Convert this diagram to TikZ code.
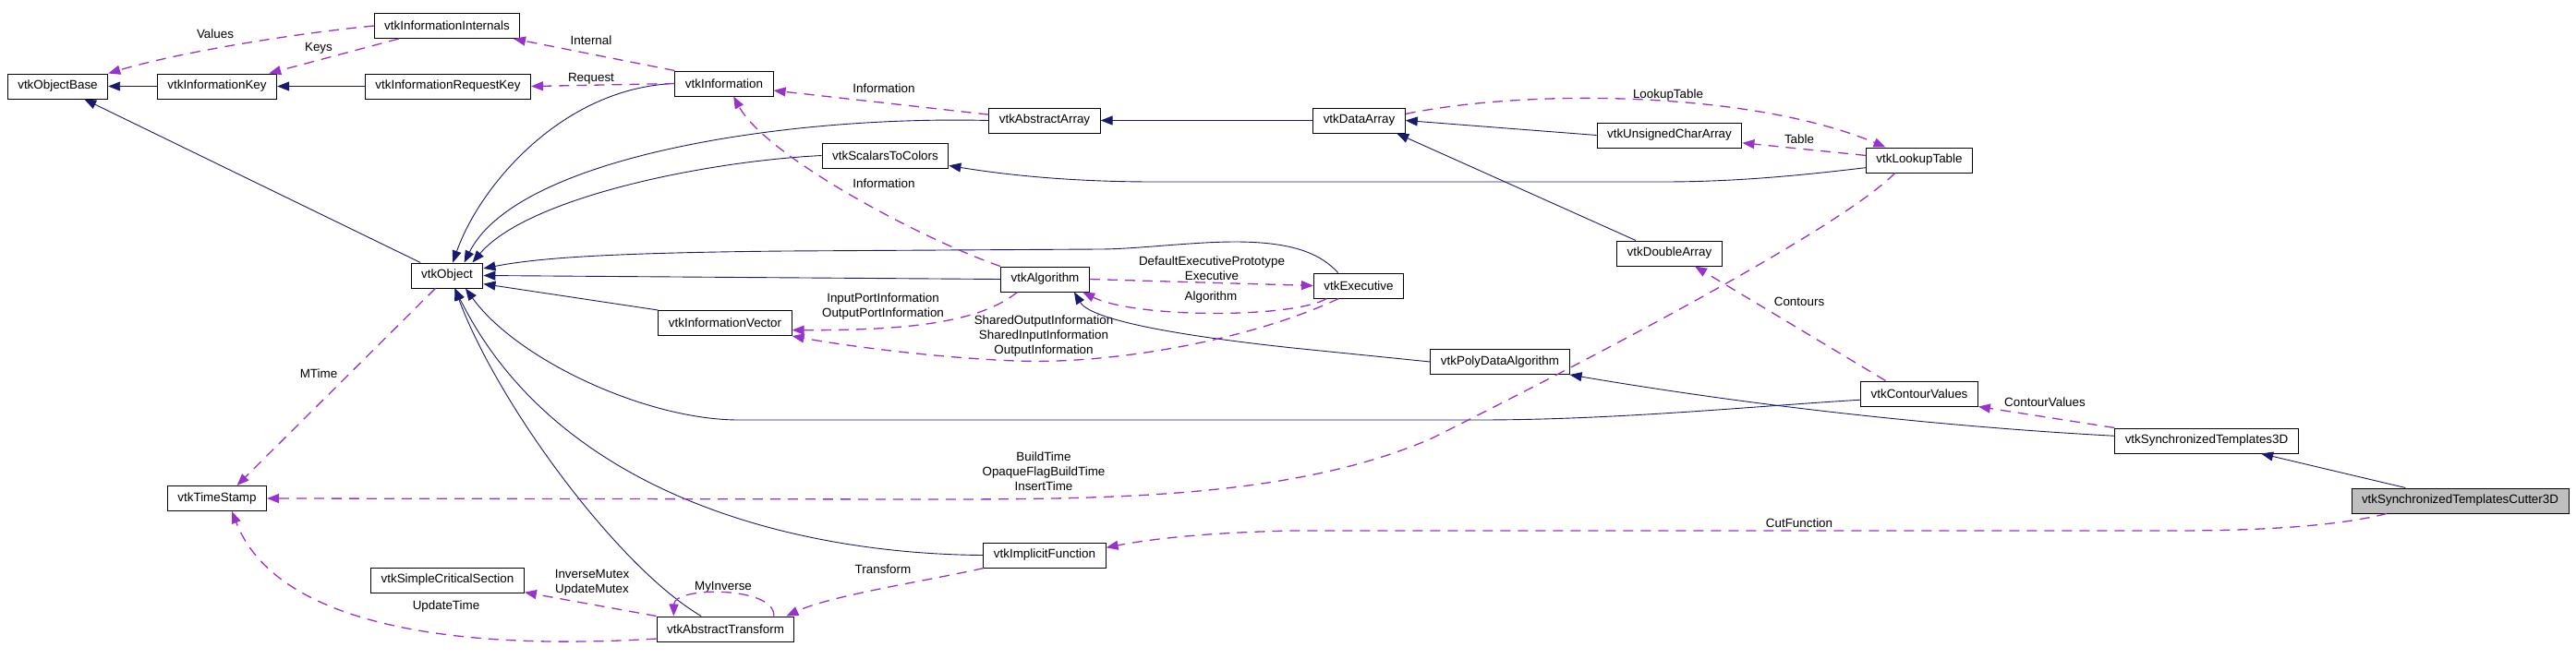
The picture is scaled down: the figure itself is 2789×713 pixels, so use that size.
\documentclass[tikz,border=0pt]{standalone}
\usepackage{fontspec}
\setmainfont{Liberation Sans}
\usetikzlibrary{arrows.meta}
\definecolor{navy}{RGB}{25,25,112}
\definecolor{orchid}{RGB}{153,50,204}
\def\fsz{\fontsize{13.4}{16}\selectfont}

\begin{document}
\begin{tikzpicture}[x=1pt, y=-1pt,
  cls/.style={draw=black, line width=1pt, inner xsep=11pt, inner ysep=0pt, minimum height=27pt, font=\fsz},
  inh/.style={navy, line width=0.9pt, -{Triangle[length=13pt,width=10pt]}},
  usg/.style={orchid, line width=1.3pt, dash pattern=on 11pt off 8pt, -{Triangle[length=13pt,width=10pt]}},
  lbl/.style={font=\fsz, align=center, inner sep=0pt}]
\useasboundingbox (0,0) rectangle (2789,713);

\node[cls] (obase) at (62.5,93.5) {vtkObjectBase};
\node[cls] (ikey) at (235,93.5) {vtkInformationKey};
\node[cls] (ireq) at (485,93.5) {vtkInformationRequestKey};
\node[cls] (iint) at (484,28) {vtkInformationInternals};
\node[cls] (info) at (784,90.5) {vtkInformation};
\node[cls] (aarr) at (1131,130.5) {vtkAbstractArray};
\node[cls] (s2c) at (958.5,168.5) {vtkScalarsToColors};
\node[cls] (darr) at (1471.5,130.5) {vtkDataArray};
\node[cls] (ucarr) at (1807.5,146.5) {vtkUnsignedCharArray};
\node[cls] (lut) at (2078,173.5) {vtkLookupTable};
\node[cls] (obj) at (484,298.5) {vtkObject};
\node[cls] (alg) at (1131.5,302.5) {vtkAlgorithm};
\node[cls] (exe) at (1471,309.5) {vtkExecutive};
\node[cls] (dbl) at (1807.5,274.5) {vtkDoubleArray};
\node[cls] (ivec) at (785,350) {vtkInformationVector};
\node[cls] (pda) at (1624,392) {vtkPolyDataAlgorithm};
\node[cls] (cval) at (2078,426.5) {vtkContourValues};
\node[cls] (st3d) at (2389,477.5) {vtkSynchronizedTemplates3D};
\node[cls, fill=black!25] (stc3d) at (2663.5,542.5) {vtkSynchronizedTemplatesCutter3D};
\node[cls] (tstamp) at (235,540) {vtkTimeStamp};
\node[cls] (ifun) at (1131,601.5) {vtkImplicitFunction};
\node[cls] (scs) at (484.5,628.5) {vtkSimpleCriticalSection};
\node[cls] (atr) at (785.5,681.5) {vtkAbstractTransform};

\node[lbl] (lValues) at (233,37) {Values};
\node[lbl] (lKeys) at (345,52) {Keys};
\node[lbl] (lInternal) at (640,44) {Internal};
\node[lbl] (lRequest) at (640,85) {Request};
\node[lbl] (lInfoA) at (957,96) {Information};
\node[lbl] (lInfoB) at (957,199) {Information};
\node[lbl] (lLut) at (1806,103) {LookupTable};
\node[lbl] (lTable) at (1948,151) {Table};
\node[lbl] (lExe) at (1312,291) {DefaultExecutivePrototype\\Executive};
\node[lbl] (lAlg) at (1311,322) {Algorithm};
\node[lbl] (lPort) at (956,332) {InputPortInformation\\OutputPortInformation};
\node[lbl] (lShared) at (1130,364) {SharedOutputInformation\\SharedInputInformation\\OutputInformation};
\node[lbl] (lContours) at (1948,327) {Contours};
\node[lbl] (lCval) at (2214,436) {ContourValues};
\node[lbl] (lMTime) at (345,405) {MTime};
\node[lbl] (lBuild) at (1130,511) {BuildTime\\OpaqueFlagBuildTime\\InsertTime};
\node[lbl] (lCut) at (1948,567) {CutFunction};
\node[lbl] (lTransform) at (956,617) {Transform};
\node[lbl] (lMyInv) at (783,636) {MyInverse};
\node[lbl] (lMutex) at (641,631) {InverseMutex\\UpdateMutex};
\node[lbl] (lUpdate) at (483,657) {UpdateTime};

\draw[inh] (ikey.west) -- (obase.east);
\draw[inh] (ireq.west) -- (ikey.east);
\draw[inh] (obj) -- (obase);
\draw[inh] (info.west) .. controls (610,95) and (520,200) .. (obj.66);
\draw[inh] (aarr.west) .. controls (850,125) and (560,170) .. (obj.37);
\draw[inh] (s2c.west) .. controls (760,175) and (570,215) .. (obj.27);
\draw[inh] (darr.west) -- (aarr.east);
\draw[inh] (ucarr.west) -- (darr.east);
\draw[inh] (dbl.159) -- (darr.-19);
\draw[inh] (lut.188) .. controls (1950,190) and (1880,197) .. (1800,197) -- (1250,197)
  .. controls (1150,197) and (1080,188) .. (s2c.-9);
\draw[inh] (exe.148) .. controls (1430,275) and (1400,262) .. (1337,262)
  .. controls (1290,262) and (1230,270) .. (1190,270) -- (850,272)
  .. controls (650,274) and (580,280) .. (obj.11);
\draw[inh] (alg.west) -- (obj.east);
\draw[inh] (ivec.north west) -- (obj.-13);
\draw[inh] (pda.west) -- (1400,377) .. controls (1260,362) and (1180,345) .. (alg.-24);
\draw[inh] (cval.186) .. controls (1900,440) and (1750,455) .. (1600,455) -- (800,455)
  .. controls (700,455) and (560,390) .. (obj.-35);
\draw[inh] (st3d.177) .. controls (2100,462) and (1900,440) .. (pda.south east);
\draw[inh] (stc3d) -- (st3d);
\draw[inh] (ifun.west) .. controls (850,600) and (600,530) .. (obj.-59);
\draw[inh] (atr.152) .. controls (670,615) and (540,440) .. (obj.-59);

\draw[usg] (iint.west) .. controls (330,35) and (200,55) .. (obase.north east);
\draw[usg] (iint.195) -- (ikey.14);
\draw[usg] (info.north west) -- (iint.-11);
\draw[usg] (info.west) -- (ireq.east);
\draw[usg] (aarr.174) -- (info.-8);
\draw[usg] (alg.north west) .. controls (1000,260) and (830,170) .. (info.-54);
\draw[usg] (darr.8) .. controls (1660,95) and (1900,100) .. (lut.159);
\draw[usg] (lut.175) -- (ucarr.-6);
\draw[usg] (alg.east) -- (exe.west);
\draw[usg] (exe.-158) .. controls (1400,345) and (1230,345) .. (alg.-19);
\draw[usg] (alg.-155) .. controls (1060,350) and (980,358) .. (ivec.-6);
\draw[usg] (exe.-147) .. controls (1350,370) and (1200,395) .. (1100,391)
  .. controls (1000,387) and (900,372) .. (ivec.south east);
\draw[usg] (cval.159) -- (dbl.-27);
\draw[usg] (st3d.172) -- (cval.south east);
\draw[usg] (obj.-132) -- (tstamp.33);
\draw[usg] (lut.-152) .. controls (1990,250) and (1700,400) .. (1550,475)
  .. controls (1400,540) and (1200,541) .. (1000,541) -- (tstamp.east);
\draw[usg] (stc3d.-170) .. controls (2530,570) and (2450,575) .. (2350,575) -- (1400,575)
  .. controls (1300,577) and (1240,585) .. (ifun.7);
\draw[usg] (ifun.-168) .. controls (1000,630) and (900,645) .. (atr.12);
\draw[usg] (atr.15) .. controls (840,635) and (730,635) .. (atr.166);
\draw[usg] (atr.north west) -- (scs.-9.5);
\draw[usg] (atr.188) .. controls (500,705) and (300,680) .. (tstamp.-41);
\end{tikzpicture}
\end{document}
